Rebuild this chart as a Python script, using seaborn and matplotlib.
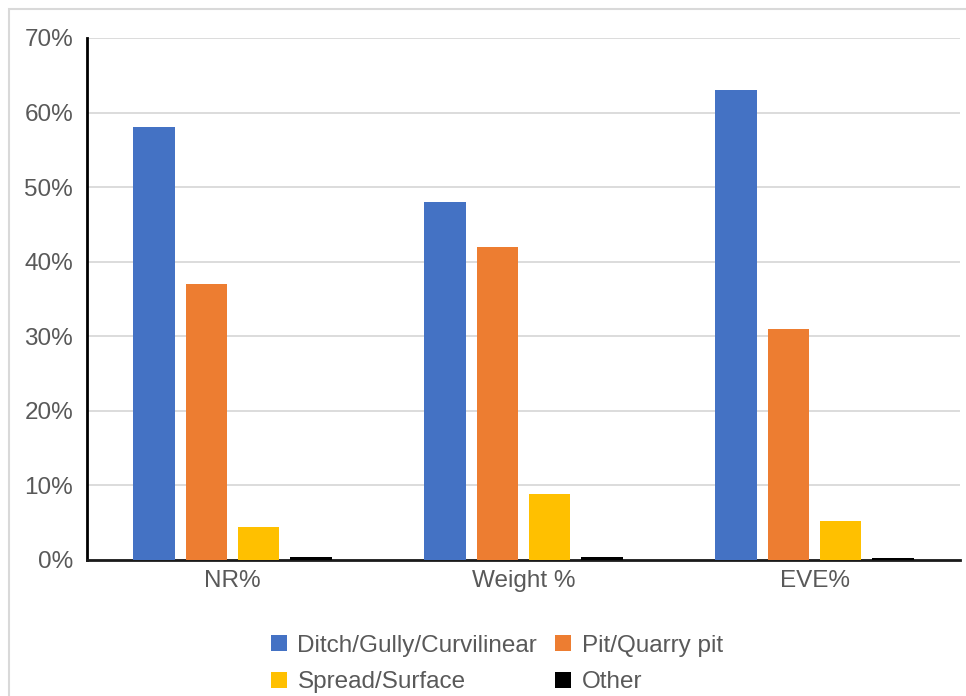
import matplotlib
matplotlib.use("Agg")
import matplotlib.pyplot as plt
import matplotlib.patches as mpatches
import seaborn as sns
import pandas as pd
from matplotlib.ticker import FuncFormatter, MultipleLocator

categories = ["NR%", "Weight %", "EVE%"]
series = ["Ditch/Gully/Curvilinear", "Pit/Quarry pit", "Spread/Surface", "Other"]
ditch = [58, 48, 63]
pit = [37, 42, 31]
spread = [4.4, 8.9, 5.2]
other = [0.4, 0.45, 0.3]
colors = ["#4472C4", "#ED7D31", "#FFC000", "#000000"]

rows = []
for name, vals in zip(series, [ditch, pit, spread, other]):
    for cat, v in zip(categories, vals):
        rows.append({"category": cat, "series": name, "value": v})
df = pd.DataFrame(rows)

sns.set_style("white")
plt.rcParams["font.family"] = ["Liberation Sans", "DejaVu Sans"]

fig = plt.figure(figsize=(9.66, 6.96), dpi=100)
ax = fig.add_axes([87/966, 136/696, (960-87)/966, (560-38)/696])

sns.barplot(data=df, x="category", y="value", hue="series", order=categories,
            hue_order=series, palette=colors, width=0.72, gap=0.21,
            saturation=1, ax=ax, legend=False, zorder=3, linewidth=0)

ax.set_ylim(0, 70)
ax.set_xlim(-0.5, 2.5)
ax.yaxis.set_major_locator(MultipleLocator(10))
ax.yaxis.set_major_formatter(FuncFormatter(lambda v, p: f"{int(round(v))}%"))
ax.grid(axis="y", color="#D9D9D9", linewidth=1.3, zorder=0)
ax.set_axisbelow(True)
ax.set_xlabel("")
ax.set_ylabel("")
for s in ["top", "right"]:
    ax.spines[s].set_visible(False)
ax.spines["left"].set_color("#000000")
ax.spines["left"].set_linewidth(2)
ax.spines["bottom"].set_color("#1a1a1a")
ax.spines["bottom"].set_linewidth(2)
ax.tick_params(axis="both", length=0, labelsize=17.5, labelcolor="#595959")
ax.tick_params(axis="y", pad=10)
ax.tick_params(axis="x", pad=7)

# Legend laid out row by row: matplotlib fills columns first, so interleave
handles = [mpatches.Patch(facecolor=c, edgecolor="none", label=s) for c, s in zip(colors, series)]
ordered = [handles[0], handles[2], handles[1], handles[3]]
leg = fig.legend(handles=ordered, ncol=2, loc="center", bbox_to_anchor=(497/966, 1 - 664/696),
                 frameon=False, fontsize=17.5, handlelength=0.65, handleheight=0.65,
                 handletextpad=0.45, columnspacing=0.75, labelspacing=0.6)
for t in leg.get_texts():
    t.set_color("#595959")

fig.patches.append(mpatches.Rectangle((9/966, -0.05), 1.0, 1 - 9/696 + 0.05,
                                      transform=fig.transFigure, fill=False,
                                      edgecolor="#D9D9D9", linewidth=1.5))

fig.savefig("out.png", dpi=100)
